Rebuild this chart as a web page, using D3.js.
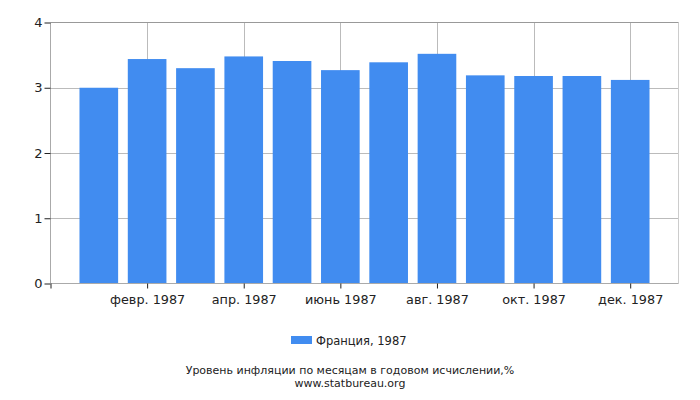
<!DOCTYPE html>
<html>
<head>
<meta charset="utf-8">
<script src="https://cdn.jsdelivr.net/npm/d3@7"></script>
<style>
  body { margin: 0; background: #fff; }
  svg { font-family: "DejaVu Sans", sans-serif; }
</style>
</head>
<body>
<svg id="chart" width="700" height="400"></svg>
<script>
// months of 1987, index 0 = January
const months = d3.range(12);
const values = [3.0, 3.44, 3.30, 3.48, 3.41, 3.27, 3.39, 3.52, 3.19, 3.18, 3.18, 3.12];
const tickMonths = [1, 3, 5, 7, 9, 11];
const tickLabels = ['февр. 1987', 'апр. 1987', 'июнь 1987', 'авг. 1987', 'окт. 1987', 'дек. 1987'];
const yTicks = [0, 1, 2, 3, 4];
const seriesName = 'Франция, 1987';
const title = 'Уровень инфляции по месяцам в годовом исчислении,%';
const source = 'www.statbureau.org';

const svg = d3.select('#chart');
const plotL = 50.5, plotR = 678.5, plotT = 22.5, plotB = 283.5;
const barColor = '#418cf0';

const x = d3.scaleLinear().domain([-1, 12]).range([plotL, plotR]);
const y = d3.scaleLinear().domain([0, 4]).range([plotB, plotT]);
const slot = x(1) - x(0);
const barW = slot * 0.8;

// grid
const grid = svg.append('g');
grid.selectAll('line.h')
  .data(yTicks.filter(d => d > 0 && d < 4))
  .enter().append('line')
  .attr('x1', plotL).attr('x2', plotR)
  .attr('y1', d => Math.round(y(d)) + 0.5).attr('y2', d => Math.round(y(d)) + 0.5)
  .attr('stroke', '#bbbbbb');
grid.selectAll('line.v')
  .data(tickMonths)
  .enter().append('line')
  .attr('x1', d => Math.round(x(d)) + 0.5).attr('x2', d => Math.round(x(d)) + 0.5)
  .attr('y1', plotT).attr('y2', plotB)
  .attr('stroke', '#bbbbbb');
// right border
grid.append('line')
  .attr('x1', plotR).attr('x2', plotR).attr('y1', plotT).attr('y2', plotB)
  .attr('stroke', '#cccccc');
// top border
grid.append('line')
  .attr('x1', plotL).attr('x2', plotR).attr('y1', plotT).attr('y2', plotT)
  .attr('stroke', '#999999');

// bars
svg.append('g').selectAll('rect')
  .data(months)
  .enter().append('rect')
  .attr('x', d => x(d) - barW / 2)
  .attr('width', barW)
  .attr('y', d => y(values[d]))
  .attr('height', d => y(0) - y(values[d]))
  .attr('fill', barColor);

// y axis
const yAxis = d3.axisLeft(y).tickValues(yTicks).tickSize(6).tickPadding(2).tickFormat(d3.format('d'));
const gy = svg.append('g').attr('transform', `translate(${plotL},0)`).call(yAxis);
gy.select('.domain').attr('stroke', '#aaaaaa').attr('d', `M0,${plotT}V${plotB}`);
gy.selectAll('.tick line').attr('stroke', '#222');
gy.selectAll('.tick text').attr('font-size', 13).attr('fill', '#222').attr('font-family', '"DejaVu Sans", sans-serif');

// x axis
const xAxis = d3.axisBottom(x).tickValues([-1].concat(tickMonths)).tickSize(5).tickPadding(6)
  .tickFormat(d => d < 0 ? '' : tickLabels[tickMonths.indexOf(d)]);
const gx = svg.append('g').attr('transform', `translate(0,${plotB})`).call(xAxis);
gx.select('.domain').attr('stroke', '#aaaaaa').attr('d', `M${plotL},0H${plotR}`);
gx.selectAll('.tick line').attr('stroke', '#222');
gx.selectAll('.tick text').attr('font-size', 12.8).attr('fill', '#222').attr('font-family', '"DejaVu Sans", sans-serif');

// legend
const lg = svg.append('g');
lg.append('rect').attr('x', 291).attr('y', 336).attr('width', 21).attr('height', 8).attr('fill', barColor);
lg.append('text').attr('x', 316).attr('y', 345).attr('font-size', 11.5).attr('fill', '#222').text(seriesName);

// caption
svg.append('text').attr('x', 350).attr('y', 374).attr('text-anchor', 'middle')
  .attr('font-size', 11).attr('fill', '#222').text(title);
svg.append('text').attr('x', 350).attr('y', 387).attr('text-anchor', 'middle')
  .attr('font-size', 11).attr('fill', '#222').text(source);
</script>
</body>
</html>
